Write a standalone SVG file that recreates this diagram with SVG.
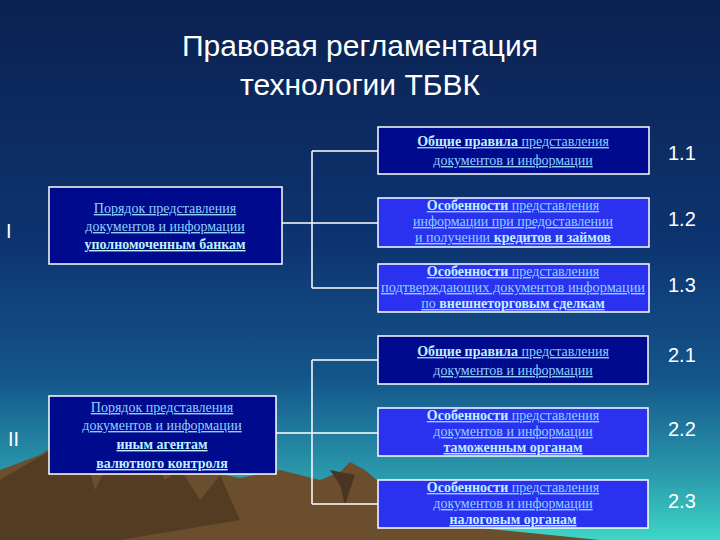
<svg xmlns="http://www.w3.org/2000/svg" width="720" height="540" viewBox="0 0 720 540">
<defs>
<linearGradient id="sky" x1="0" y1="0" x2="0" y2="1">
<stop offset="0" stop-color="#0b2150"/><stop offset="0.45" stop-color="#0d3470"/><stop offset="0.7" stop-color="#14558a"/><stop offset="0.88" stop-color="#2a9aac"/><stop offset="1" stop-color="#3fd6c8"/>
</linearGradient>
<style>
.box{stroke:#ffffff;stroke-width:1.5}
.dark{fill:#000a8c}
.lite{fill:#2a32f0}
.t{font-family:"Liberation Serif",serif;font-size:14px;fill:#8fd0ff;text-anchor:middle;text-decoration:underline}
.b{font-weight:bold;fill:#bff0ff}
.n{font-family:"Liberation Sans",sans-serif;font-size:20px;fill:#ffffff}
.c{stroke:#ffffff;stroke-width:1.5;fill:none}
</style>
</defs>
<rect width="720" height="540" fill="url(#sky)"/>
<path d="M0 470 L40 455 L80 430 L120 440 L160 452 L200 470 L240 478 L280 470 L320 480 L340 472 L350 462 L365 470 L400 500 L450 525 L600 540 L0 540 Z" fill="#6b4e2e"/>
<path d="M60 445 L70 470 L85 455 L95 490 L110 460 L130 475 L150 452 L165 480 L180 468 L200 500 L220 475 L240 520 L120 540 L0 540 L0 480 Z" fill="#4a3520" opacity="0.7"/>
<path d="M330 470 L340 485 L345 505 L355 475 Z" fill="#4a3520"/>
<text x="360" y="56" font-family="Liberation Sans,sans-serif" font-size="30" fill="#ffffff" text-anchor="middle">Правовая регламентация</text>
<text x="360" y="95" font-family="Liberation Sans,sans-serif" font-size="30" fill="#ffffff" text-anchor="middle">технологии ТБВК</text>
<g id="connectors">
<path class="c" d="M282 223 H378 M312 151 V288 M312 151 H378 M312 288 H378"/>
<path class="c" d="M276 433 H378 M312 360 V504 M312 360 H378 M312 504 H378"/>
</g>
<text class="n" x="6" y="238" font-size="26">I</text>
<text class="n" x="8" y="446" font-size="26">II</text>
<g id="n0"><rect class="box dark" x="49" y="187" width="233" height="77"/>
<text class="t" x="165" y="213">Порядок представления</text>
<text class="t" x="165" y="231">документов и информации</text>
<text class="t b" x="165" y="249">уполномоченным банкам</text></g>
<g id="n11"><rect class="box dark" x="378" y="127" width="271" height="47"/>
<text class="t" x="513" y="146"><tspan class="b">Общие правила</tspan> представления</text>
<text class="t" x="513" y="165">документов и информации</text>
<text class="n" x="668" y="160">1.1</text></g>
<g id="n12"><rect class="box lite" x="378" y="198" width="271" height="49"/>
<text class="t" x="513" y="210"><tspan class="b">Особенности</tspan> представления</text>
<text class="t" x="513" y="226">информации при предоставлении</text>
<text class="t" x="513" y="242">и получении <tspan class="b">кредитов и займов</tspan></text>
<text class="n" x="668" y="226">1.2</text></g>
<g id="n13"><rect class="box lite" x="378" y="264" width="271" height="48"/>
<text class="t" x="513" y="276"><tspan class="b">Особенности</tspan> представления</text>
<text class="t" x="513" y="292" textLength="264" lengthAdjust="spacingAndGlyphs">подтверждающих документов информации</text>
<text class="t" x="513" y="308">по <tspan class="b">внешнеторговым сделкам</tspan></text>
<text class="n" x="668" y="292">1.3</text></g>
<g id="n2"><rect class="box dark" x="49" y="396" width="227" height="78"/>
<text class="t" x="162" y="412">Порядок представления</text>
<text class="t" x="162" y="430">документов и информации</text>
<text class="t b" x="162" y="449">иным агентам</text>
<text class="t b" x="162" y="468">валютного контроля</text></g>
<g id="n21"><rect class="box dark" x="378" y="336" width="270" height="48"/>
<text class="t" x="513" y="356"><tspan class="b">Общие правила</tspan> представления</text>
<text class="t" x="513" y="375">документов и информации</text>
<text class="n" x="668" y="362">2.1</text></g>
<g id="n22"><rect class="box lite" x="378" y="408" width="270" height="48"/>
<text class="t" x="513" y="420"><tspan class="b">Особенности</tspan> представления</text>
<text class="t" x="513" y="436">документов и информации</text>
<text class="t b" x="513" y="452">таможенным органам</text>
<text class="n" x="668" y="436">2.2</text></g>
<g id="n23"><rect class="box lite" x="378" y="480" width="270" height="48"/>
<text class="t" x="513" y="492"><tspan class="b">Особенности</tspan> представления</text>
<text class="t" x="513" y="508">документов и информации</text>
<text class="t b" x="513" y="524">налоговым органам</text>
<text class="n" x="668" y="508">2.3</text></g>
</svg>
